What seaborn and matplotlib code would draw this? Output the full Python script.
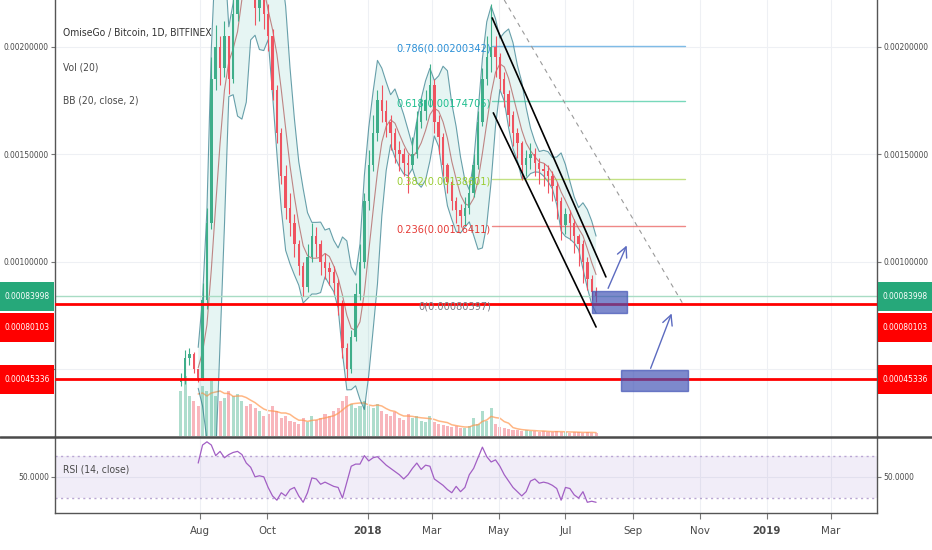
import matplotlib
matplotlib.use("Agg")
import matplotlib.pyplot as plt
import matplotlib.dates as mdates
from matplotlib import font_manager
from matplotlib.lines import Line2D
from matplotlib.patches import Rectangle
import numpy as np
import pandas as pd
import seaborn as sns

# ── data (4-day candles) ─────────────────────────────────────────────────
start_date = "2017-07-14"
first_open = 0.00044
close = [0.00045, 0.00055, 0.00057, 0.00050, 0.00046, 0.00082, 0.00118, 0.00185,
         0.00200, 0.00190, 0.00205, 0.00185, 0.00215, 0.00240, 0.00265, 0.00255,
         0.00225, 0.00218, 0.00222, 0.00215, 0.00205, 0.00180, 0.00160, 0.00140,
         0.00125, 0.00118, 0.00108, 0.00098, 0.00088, 0.00102, 0.00112, 0.00108,
         0.00100, 0.00097, 0.00095, 0.00090, 0.00080, 0.00060, 0.00050, 0.00065,
         0.00085, 0.00100, 0.00128, 0.00145, 0.00160, 0.00175, 0.00170, 0.00165,
         0.00160, 0.00152, 0.00150, 0.00146, 0.00145, 0.00150, 0.00165, 0.00170,
         0.00175, 0.00182, 0.00165, 0.00158, 0.00145, 0.00137, 0.00128, 0.00124,
         0.00121, 0.00125, 0.00132, 0.00145, 0.00165, 0.00185, 0.00195, 0.00200,
         0.00195, 0.00185, 0.00178, 0.00168, 0.00160, 0.00155, 0.00145, 0.00148,
         0.00150, 0.00146, 0.00143, 0.00142, 0.00140, 0.00135, 0.00128, 0.00117,
         0.00122, 0.00118, 0.00112, 0.00108, 0.00100, 0.00092, 0.00086, 0.00083998]
high = [0.00048, 0.00059, 0.00060, 0.00058, 0.00050, 0.00090, 0.00125, 0.00195,
        0.00210, 0.00205, 0.00212, 0.00205, 0.00225, 0.00255, 0.00290, 0.00310,
        0.00300, 0.00240, 0.00235, 0.00228, 0.00220, 0.00208, 0.00182, 0.00162,
        0.00145, 0.00132, 0.00122, 0.00110, 0.00100, 0.00108, 0.00118, 0.00116,
        0.00110, 0.00104, 0.00100, 0.00098, 0.00092, 0.00082, 0.00062, 0.00068,
        0.00090, 0.00108, 0.00132, 0.00152, 0.00168, 0.00180, 0.00182, 0.00175,
        0.00168, 0.00162, 0.00156, 0.00153, 0.00150, 0.00158, 0.00170, 0.00176,
        0.00180, 0.00192, 0.00185, 0.00168, 0.00160, 0.00146, 0.00138, 0.00130,
        0.00127, 0.00130, 0.00136, 0.00150, 0.00170, 0.00190, 0.00205, 0.00220,
        0.00205, 0.00197, 0.00188, 0.00180, 0.00170, 0.00162, 0.00156, 0.00152,
        0.00155, 0.00153, 0.00148, 0.00146, 0.00145, 0.00142, 0.00137, 0.00130,
        0.00125, 0.00124, 0.00120, 0.00113, 0.00110, 0.00102, 0.00094, 0.00088]
low = [0.00042, 0.00043, 0.00052, 0.00048, 0.00044, 0.00045, 0.00078, 0.00115,
       0.00180, 0.00182, 0.00186, 0.00178, 0.00183, 0.00212, 0.00238, 0.00250,
       0.00222, 0.00210, 0.00212, 0.00208, 0.00198, 0.00175, 0.00155, 0.00136,
       0.00120, 0.00112, 0.00102, 0.00094, 0.00084, 0.00086, 0.00100, 0.00102,
       0.00094, 0.00092, 0.00089, 0.00085, 0.00075, 0.00055, 0.00046, 0.00048,
       0.00063, 0.00082, 0.00097, 0.00124, 0.00142, 0.00156, 0.00165, 0.00158,
       0.00152, 0.00146, 0.00142, 0.00140, 0.00132, 0.00143, 0.00148, 0.00162,
       0.00166, 0.00172, 0.00160, 0.00150, 0.00140, 0.00132, 0.00124, 0.00118,
       0.00116, 0.00117, 0.00122, 0.00130, 0.00143, 0.00163, 0.00182, 0.00188,
       0.00186, 0.00180, 0.00172, 0.00163, 0.00154, 0.00148, 0.00138, 0.00140,
       0.00143, 0.00140, 0.00136, 0.00135, 0.00132, 0.00128, 0.00120, 0.00110,
       0.00113, 0.00110, 0.00104, 0.00098, 0.00090, 0.00087, 0.00082, 0.00081]
volume = [45, 60, 40, 35, 30, 50, 45, 55, 40, 35, 38, 45, 40, 42, 35, 30,
          32, 28, 25, 20, 22, 30, 25, 18, 20, 15, 14, 12, 18, 14, 20, 16,
          18, 22, 20, 25, 28, 35, 40, 32, 28, 30, 35, 30, 28, 32, 25, 22,
          20, 24, 18, 16, 22, 18, 20, 15, 14, 20, 14, 12, 11, 10, 9, 10,
          8, 8, 10, 18, 12, 25, 15, 28, 12, 9, 8, 7, 6, 6, 5, 6,
          5, 5, 4, 5, 4, 4, 5, 4, 4, 3, 4, 4, 3, 4, 3, 3]
rsi = [np.nan, np.nan, np.nan, np.nan, 63, 80, 83, 80, 70, 74, 68, 71, 73, 74, 71, 63,
       59, 50, 51, 50, 40, 32, 28, 35, 32, 38, 40, 32, 26, 35, 49, 48,
       43, 45, 43, 41, 40, 30, 45, 60, 62, 62, 70, 65, 68, 69, 65, 61,
       58, 55, 52, 48, 52, 58, 63, 57, 61, 60, 48, 45, 42, 38, 35, 41,
       36, 40, 52, 58, 68, 78, 69, 64, 66, 60, 52, 46, 40, 36, 32, 36,
       46, 48, 44, 45, 44, 42, 39, 28, 40, 39, 33, 30, 36, 26, 27, 26]

fib_ratios = [0.786, 0.618, 0.382, 0.236, 0]
fib_prices = [0.00200342, 0.00174705, 0.00138601, 0.00116411, 0.00080397]
fib_colors = ["#2a8fd6", "#1fbf8f", "#9acd32", "#e53935", "#787b86"]
fib_span = ["2018-04-25", "2018-10-18"]

last_price = 0.00083998
support_prices = [0.00080103, 0.00045336]

channel_dates = [["2018-04-25", "2018-08-07"], ["2018-04-26", "2018-07-29"]]
channel_prices = [[0.0021335, 0.000929], [0.001692, 0.000696]]
dashed_dates = ["2018-05-06", "2018-10-17"]
dashed_prices = [0.002217, 0.000799]
box_dates = [["2018-07-25", "2018-08-26"], ["2018-08-21", "2018-10-21"]]
box_prices = [[0.0007614, 0.0008637], [0.0003986, 0.0004963]]
arrow_dates = [["2018-08-08", "2018-08-27"], ["2018-09-16", "2018-10-07"]]
arrow_prices = [[0.000864, 0.001087], [0.0004917, 0.000771]]

tick_dates = ["2017-08-01", "2017-10-01", "2018-01-01", "2018-03-01", "2018-05-01",
              "2018-07-01", "2018-09-01", "2018-11-01", "2019-01-01", "2019-03-01"]
tick_labels = ["Aug", "Oct", "2018", "Mar", "May", "Jul", "Sep", "Nov", "2019", "Mar"]
price_ticks = [0.0005, 0.0010, 0.0015, 0.0020]

# ── style ────────────────────────────────────────────────────────────────
sns.set_theme(style="white")
fonts = font_manager.fontManager.ttflist
FONT, STRETCH = "Liberation Sans", "normal"
narrow = [f for f in fonts if "Narrow" in f.name or "Condensed" in f.name
          or f.stretch in ("condensed", "semi-condensed")]
if narrow:
    FONT, STRETCH = narrow[0].name, narrow[0].stretch
elif "Liberation Sans" not in {f.name for f in fonts}:
    FONT = "DejaVu Sans"
plt.rcParams["font.family"] = [FONT, "DejaVu Sans"]
plt.rcParams["font.stretch"] = STRETCH
TXT = "#4a4a4a"
UP, DOWN = "#3fae8a", "#ef5360"
W, H = 932, 550

fig = plt.figure(figsize=(W / 100, H / 100), dpi=100)
fig.patch.set_facecolor("white")
renderer = fig.canvas.get_renderer()


def fit_size(s, target_px, weight="normal"):
    # font size that makes s about target_px wide (the original font is narrow)
    t = fig.text(0, 0, s, fontsize=10, fontweight=weight)
    w = t.get_window_extent(renderer).width
    t.remove()
    return 10 * target_px / w


FS_PRICE = fit_size("0.00200000", 46)
FS_LEGEND = fit_size("OmiseGo / Bitcoin, 1D, BITFINEX", 149)
FS_FIB = fit_size("0.786(0.00200342)", 95)
FS_DATE = min(fit_size("Aug", 20), 10)

df = pd.DataFrame({"close": close, "high": high, "low": low, "volume": volume, "rsi": rsi})
df["date"] = pd.date_range(start_date, periods=len(df), freq="4D")
df["open"] = [first_open] + close[:-1]
df["up"] = df["close"] >= df["open"]
df["basis"] = df["close"].rolling(5).mean()
sd = df["close"].rolling(5).std(ddof=0)
df["bb_up"] = df["basis"] + 2 * sd
df["bb_lo"] = df["basis"] - 2 * sd
df["vol_ma"] = df["volume"].rolling(5).mean()
x = mdates.date2num(df["date"])

ax = fig.add_axes([55 / W, 1 - 436 / H, 822 / W, 436 / H])
rax = fig.add_axes([55 / W, 1 - 513 / H, 822 / W, 77 / H], sharex=ax)

# volume on hidden twin axis, behind the candles
vax = ax.twinx()
vax.set_zorder(ax.get_zorder() - 1)
ax.patch.set_visible(False)
vcol = np.where(df["up"], UP, DOWN)
vax.bar(x, df["volume"], width=2.8, color=vcol, alpha=0.42, linewidth=0)
vax.plot(x, df["vol_ma"], color="#ff9850", lw=1.1, alpha=0.7)
vax.set_ylim(0, 436)
vax.set_yticks([])
for s in vax.spines.values():
    s.set_visible(False)

# Bollinger bands
ax.fill_between(x, df["bb_lo"], df["bb_up"], color="#22ab94", alpha=0.11, lw=0)
ax.plot(x, df["bb_up"], color="#1d6f80", lw=0.8, alpha=0.65)
ax.plot(x, df["bb_lo"], color="#1d6f80", lw=0.8, alpha=0.65)
ax.plot(x, df["basis"], color="#a33a3a", lw=0.8, alpha=0.6)

# candles
ccol = np.where(df["up"], UP, DOWN)
ax.vlines(x, df["low"], df["high"], colors=ccol, lw=0.8, zorder=3)
body_lo = np.minimum(df["open"], df["close"])
body_h = np.maximum(np.abs(df["close"] - df["open"]), 0.000008)
ax.bar(x, body_h, bottom=body_lo, width=2.2, color=ccol, linewidth=0, zorder=3)

# levels
ax.axhline(last_price, color="#a8dcc4", lw=1, zorder=2)
for p in support_prices:
    ax.axhline(p, color="#ff0000", lw=2, zorder=4)

fx = mdates.datestr2num(fib_span)
for r, p, c in zip(fib_ratios, fib_prices, fib_colors):
    if r != 0:
        ax.plot(fx, [p, p], color=c, lw=1, alpha=0.6, zorder=2)
    ax.annotate(f"{r}({p:.8f})", xy=(fx[0], p), xytext=(-1, -2), textcoords="offset points",
                ha="right", va="center", color=c, fontsize=FS_FIB, zorder=5)

for d, p in zip(channel_dates, channel_prices):
    ax.plot(mdates.datestr2num(d), p, color="black", lw=1.2, zorder=5)
ax.plot(mdates.datestr2num(dashed_dates), dashed_prices, color="#9a9a9a", lw=0.8,
        ls=(0, (4, 4)), zorder=2)
for d, p in zip(box_dates, box_prices):
    d0, d1 = mdates.datestr2num(d)
    ax.add_patch(Rectangle((d0, p[0]), d1 - d0, p[1] - p[0], facecolor="#3f51b5",
                           edgecolor="#3f51b5", alpha=0.68, lw=1, zorder=6))
for d, p in zip(arrow_dates, arrow_prices):
    d0, d1 = mdates.datestr2num(d)
    ax.annotate("", xy=(d1, p[1]), xytext=(d0, p[0]),
                arrowprops=dict(arrowstyle="->,head_length=0.6,head_width=0.3",
                                color="#5c6bc0", lw=1), zorder=6)

ax.set_xlim(mdates.datestr2num("2017-03-21"), mdates.datestr2num("2019-04-12"))
ax.set_ylim(0.000189, 0.002217)
ax.set_yticks(price_ticks)
# the 0.0005 label sits under the red price tag in the original
ax.set_yticklabels(["" if v == 0.0005 else f"{v:.8f}" for v in price_ticks])
ax.tick_params(axis="y", left=True, right=True, labelleft=True, labelright=True,
               length=3, width=0.8, pad=1.5, labelsize=FS_PRICE, labelcolor=TXT, color="#777")
ax.tick_params(axis="x", bottom=False, labelbottom=False)
ax.grid(True, color="#eef0f4", lw=0.8)
for k in ["top", "bottom"]:
    ax.spines[k].set_visible(False)
for k in ["left", "right"]:
    ax.spines[k].set_color("#555")
    ax.spines[k].set_linewidth(1)


def price_to_fig(p):
    return ax.transData.transform((x[0], p))[1] / fig.bbox.height


# price tags on both axes
y_last = price_to_fig(last_price)
tags = [(last_price, y_last, "#26a87a"),
        (support_prices[0], y_last - 31 / H, "#ff0000"),
        (support_prices[1], price_to_fig(support_prices[1]), "#ff0000")]
for val, yc, col in tags:
    for x0, x1 in [(0, 54), (878, W)]:
        fig.add_artist(Rectangle((x0 / W, yc - 14.5 / H), (x1 - x0) / W, 29 / H,
                                 transform=fig.transFigure, facecolor=col, edgecolor="none",
                                 zorder=10))
        fig.text((x0 + x1) / 2 / W, yc, f"{val:.8f}", ha="center", va="center",
                 color="white", fontsize=FS_PRICE, zorder=11)

# RSI panel
rax.axhspan(30, 70, color="#7e57c2", alpha=0.1, lw=0)
rax.axhline(70, color="#b9a6d3", lw=1, ls=(0, (1.5, 2.5)))
rax.axhline(30, color="#b9a6d3", lw=1, ls=(0, (1.5, 2.5)))
sns.lineplot(x=x, y=df["rsi"], ax=rax, color="#a25fc4", lw=0.9)
rax.set_ylim(15.9, 88.5)
rax.set_yticks([50])
rax.set_yticklabels(["50.0000"])
rax.set_ylabel("")
rax.tick_params(axis="y", left=True, right=True, labelleft=True, labelright=True,
                length=3, width=0.8, pad=1.5, labelsize=FS_PRICE, labelcolor=TXT, color="#777")
rax.set_xticks(mdates.datestr2num(tick_dates))
rax.set_xticklabels(tick_labels)
rax.tick_params(axis="x", bottom=True, length=4, width=0.8, pad=5, labelsize=FS_DATE,
                labelcolor=TXT, color="#777")
for lbl in rax.get_xticklabels():
    if lbl.get_text() in ("2018", "2019"):
        lbl.set_fontweight("bold")
rax.grid(True, color="#eef0f4", lw=0.8)
rax.spines["top"].set_visible(False)
for k in ["left", "right", "bottom"]:
    rax.spines[k].set_color("#555")
    rax.spines[k].set_linewidth(1)

fig.add_artist(Line2D([0, 1], [1 - 436.5 / H] * 2, transform=fig.transFigure,
                      color="#4a4a4a", lw=1.8))

# legend texts
fig.text(63 / W, 1 - 33 / H, "OmiseGo / Bitcoin, 1D, BITFINEX", fontsize=FS_LEGEND,
         color="#333", va="center")
fig.text(63 / W, 1 - 67 / H, "Vol (20)", fontsize=FS_LEGEND, color=TXT, va="center")
fig.text(63 / W, 1 - 100 / H, "BB (20, close, 2)", fontsize=FS_LEGEND, color=TXT, va="center")
fig.text(63 / W, 1 - 470 / H, "RSI (14, close)", fontsize=FS_LEGEND, color=TXT, va="center")

fig.savefig("out.png", dpi=100)
